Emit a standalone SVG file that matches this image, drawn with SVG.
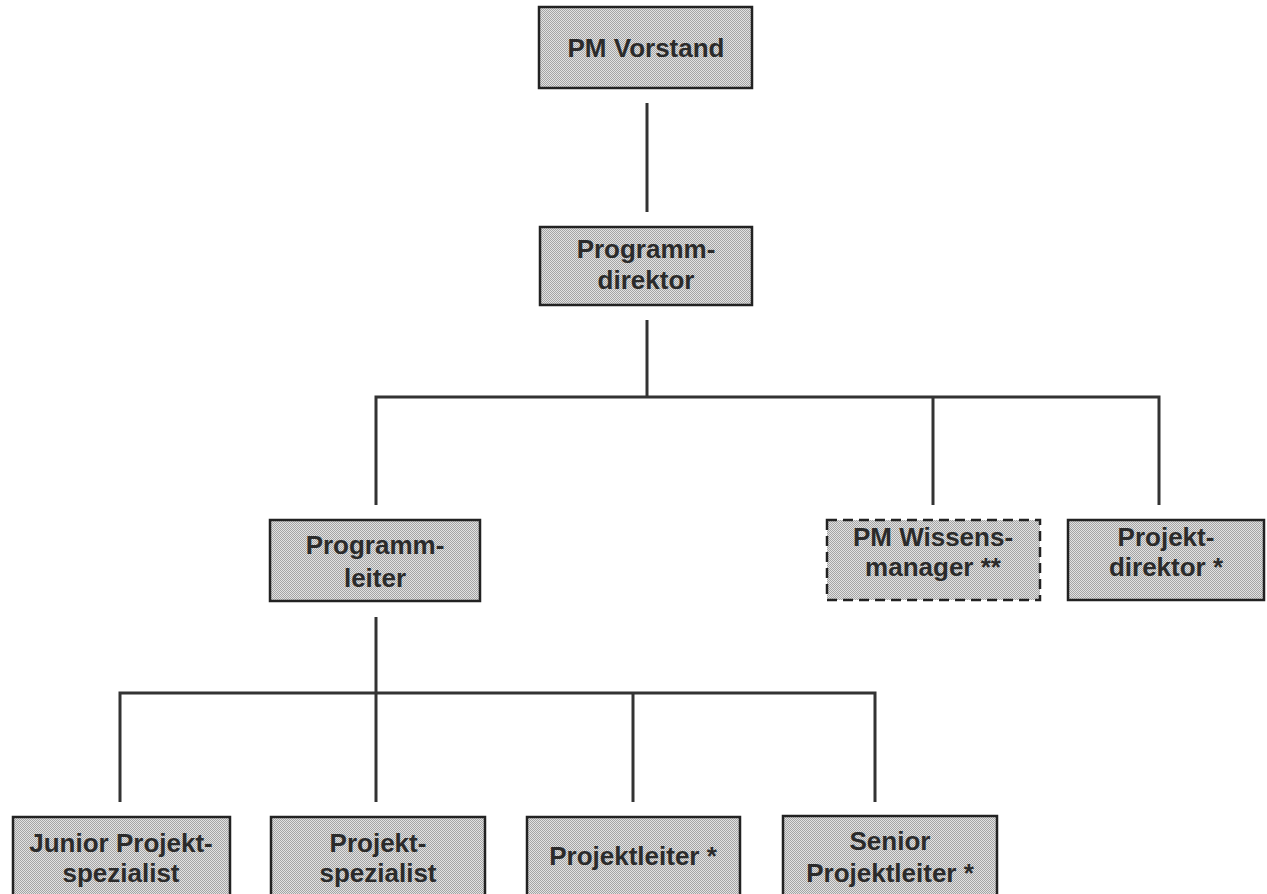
<svg xmlns="http://www.w3.org/2000/svg" width="1267" height="894" viewBox="0 0 1267 894">
<style>
.box{fill:url(#ht);stroke:#222;stroke-width:2.5}
.dash{stroke-dasharray:10 6}
.lbl{font-family:"Liberation Sans",Arial,sans-serif;font-weight:bold;font-size:26px;fill:#2b2b2b;text-anchor:middle}
.conn{stroke:#333;stroke-width:3;fill:none}
</style>
<defs>
<pattern id="ht" width="2" height="2" patternUnits="userSpaceOnUse">
<rect width="2" height="2" fill="#e2e2e2"/>
<rect width="1" height="1" fill="#a4a4a4"/>
<rect x="1" y="1" width="1" height="1" fill="#a4a4a4"/>
</pattern>
</defs>
<rect width="1267" height="894" fill="#fff"/>
<g id="connectors">
<line class="conn" x1="647" y1="103" x2="647" y2="212"/>
<line class="conn" x1="647" y1="320" x2="647" y2="397"/>
<polyline class="conn" points="376,505 376,397 1159,397 1159,505"/>
<line class="conn" x1="933" y1="397" x2="933" y2="505"/>
<line class="conn" x1="376" y1="617" x2="376" y2="802"/>
<polyline class="conn" points="120,802 120,693 875,693 875,802"/>
<line class="conn" x1="633" y1="693" x2="633" y2="802"/>
</g>
<g id="pm-vorstand">
<rect class="box" x="539" y="7" width="213" height="81"/>
<text class="lbl" x="646" y="57">PM Vorstand</text>
</g>
<g id="programmdirektor">
<rect class="box" x="540" y="227" width="212" height="78"/>
<text class="lbl" x="646" y="258">Programm-</text>
<text class="lbl" x="646" y="289">direktor</text>
</g>
<g id="programmleiter">
<rect class="box" x="270" y="520" width="210" height="81"/>
<text class="lbl" x="375" y="554">Programm-</text>
<text class="lbl" x="375" y="587">leiter</text>
</g>
<g id="pm-wissensmanager">
<rect class="box dash" x="827" y="520" width="213" height="80"/>
<text class="lbl" x="933" y="546">PM Wissens-</text>
<text class="lbl" x="933" y="576">manager **</text>
</g>
<g id="projektdirektor">
<rect class="box" x="1068" y="520" width="196" height="80"/>
<text class="lbl" x="1166" y="546">Projekt-</text>
<text class="lbl" x="1166" y="576">direktor *</text>
</g>
<g id="junior-projektspezialist">
<rect class="box" x="13" y="817" width="217" height="90"/>
<text class="lbl" x="121" y="852">Junior Projekt-</text>
<text class="lbl" x="121" y="882">spezialist</text>
</g>
<g id="projektspezialist">
<rect class="box" x="271" y="817" width="214" height="90"/>
<text class="lbl" x="378" y="852">Projekt-</text>
<text class="lbl" x="378" y="882">spezialist</text>
</g>
<g id="projektleiter">
<rect class="box" x="527" y="817" width="213" height="90"/>
<text class="lbl" x="633" y="865">Projektleiter *</text>
</g>
<g id="senior-projektleiter">
<rect class="box" x="783" y="816" width="214" height="91"/>
<text class="lbl" x="890" y="850">Senior</text>
<text class="lbl" x="890" y="882">Projektleiter *</text>
</g>
</svg>
